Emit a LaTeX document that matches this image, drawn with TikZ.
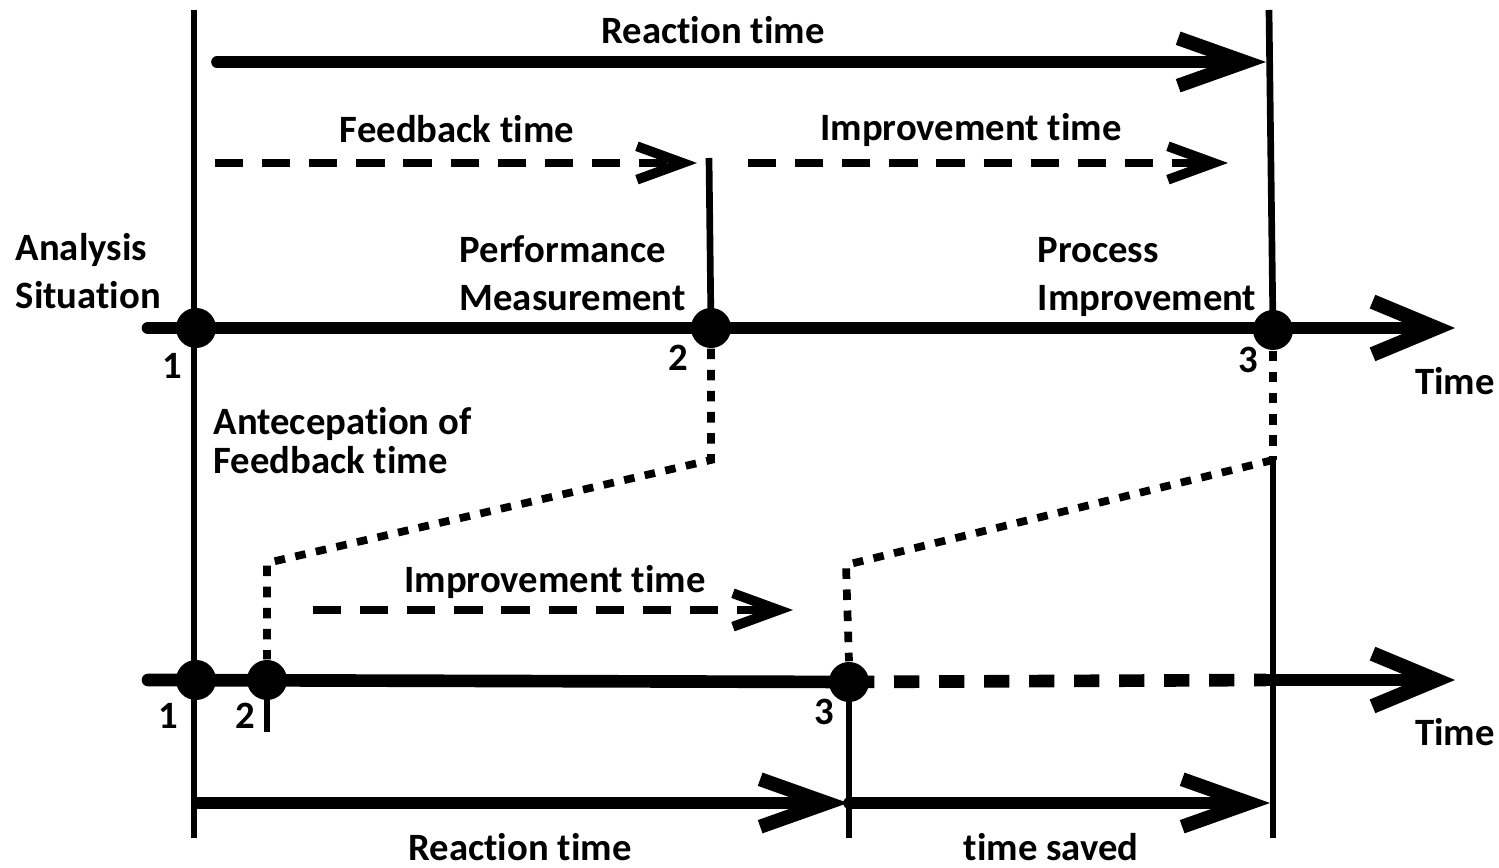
\documentclass[tikz,border=0pt]{standalone}
\usepackage{fontspec}
\setmainfont{Carlito}[Ligatures=NoCommon]
\usetikzlibrary{arrows.meta,backgrounds}
\begin{document}
\begin{tikzpicture}[x=0.01cm,y=-0.01cm,
  lbl/.style={font=\fontsize{11pt}{13pt}\selectfont\bfseries, inner sep=0pt, anchor=base},
  lblw/.style={lbl, anchor=base west},
  dot/.style={circle, fill=black, inner sep=0pt, minimum size=0.4cm},
  vline/.style={line width=1.9pt},
  dotline/.style={line width=2.2pt, dash pattern=on 3pt off 3pt},
  bigtip/.style={-{Straight Barb[length=18pt,width=15pt,line width=4.2pt]}},
  axisline/.style={line width=3.6pt, line cap=round},
  harrow/.style={line width=3.3pt, line cap=round, -{Straight Barb[length=19pt,width=13.5pt,line width=4pt]}},
  darrow/.style={line width=2.4pt, dash pattern=on 8pt off 5.4pt, -{Straight Barb[length=13pt,width=9.5pt,line width=2.8pt]}},
  daxis/.style={line width=3.6pt, dash pattern=on 7.2pt off 5.6pt}
]
\path[use as bounding box] (0,0) rectangle (1499,868);

% dots
\node[dot] (t1) at (196,328) {};
\node[dot] (t2) at (711,328) {};
\node[dot] (t3) at (1273,330) {};
\node[dot] (b1) at (196,680) {};
\node[dot] (b2) at (267,680) {};
\node[dot] (b3) at (849,682) {};

% helper coordinates
\coordinate (Ltop) at (194,10);
\coordinate (Lbot) at (194,838);
\coordinate (Rtop) at (1269,10);
\coordinate (Rmid) at (1273,460);
\coordinate (Rbot) at (1273,838);
\coordinate (Mtop) at (709,158);
\coordinate (d2a) at (711,460);
\coordinate (d2b) at (267,563);
\coordinate (d3b) at (846,565);
\coordinate (b2end) at (267,732);
\coordinate (b3end) at (849,838);
\coordinate (taxS) at (148,328);
\coordinate (taxE) at (1455,328);
\coordinate (baxS) at (148,680);
\coordinate (baxD) at (1266,680);
\coordinate (baxE) at (1455,680);
\coordinate (rtS) at (217,62);
\coordinate (rtE) at (1266,62);
\coordinate (fbS) at (215,163);
\coordinate (fbE) at (697,163);
\coordinate (imS) at (748,163);
\coordinate (imE) at (1228,163);
\coordinate (ibS) at (313,610);
\coordinate (ibE) at (793,610);
\coordinate (brS) at (197,803);
\coordinate (brE) at (848,803);
\coordinate (tsS) at (849,803);
\coordinate (tsE) at (1270,803);

\begin{scope}[on background layer]
% verticals
\draw[vline] (Ltop) -- (Lbot);
\draw[vline] (Mtop) -- (t2.center);
\draw[vline] (Rtop) -- (t3.center);
\draw[dotline] (t3.south) -- (Rmid);
\draw[vline] (Rmid) -- (Rbot);
\draw[vline] (b2.center) -- (b2end);
\draw[vline] (b3.center) -- (b3end);
% dotted anticipation paths
\draw[dotline] (t2.south) -- (d2a) -- (d2b) -- (b2.north);
\draw[dotline] (Rmid) -- (d3b) -- (b3.north);
% top arrows
\draw[harrow] (rtS) -- (rtE);
\draw[darrow] (fbS) -- (fbE);
\draw[darrow] (imS) -- (imE);
\draw[darrow] (ibS) -- (ibE);
% axes
\draw[axisline, bigtip] (taxS) -- (taxE);
\draw[axisline] (baxS) -- (b3.center);
\draw[daxis] (b3.center) -- (baxD);
\draw[axisline, bigtip] (baxD) -- (baxE);
% bottom arrows
\draw[harrow] (brS) -- (brE);
\draw[harrow] (tsS) -- (tsE);
\end{scope}

% labels
\node[lbl] (lrt) at (713,44) {Reaction time};
\node[lbl] (lfb) at (457,143) {Feedback time};
\node[lbl] (lim) at (971,141) {Improvement time};
\node[lblw] (la1) at (15,261) {Analysis};
\node[lblw] (la2) at (15,309) {Situation};
\node[lblw] (lp1) at (459,263) {Performance};
\node[lblw] (lp2) at (459,311) {Measurement};
\node[lblw] (lq1) at (1037,263) {Process};
\node[lblw] (lq2) at (1037,311) {Improvement};
\node[lbl] (n1t) at (172,379) {1};
\node[lbl] (n2t) at (678,371) {2};
\node[lbl] (n3t) at (1248,373) {3};
\node[lbl] (tt) at (1455,395) {Time};
\node[lblw] (lan1) at (213,435) {Antecepation of};
\node[lblw] (lan2) at (213,474) {Feedback time};
\node[lbl] (lib) at (555,593) {Improvement time};
\node[lbl] (n1b) at (168,729) {1};
\node[lbl] (n2b) at (245,729) {2};
\node[lbl] (n3b) at (824,725) {3};
\node[lbl] (tb) at (1455,746) {Time};
\node[lbl] (lbr) at (520,861) {Reaction time};
\node[lbl] (lts) at (1051,861) {time saved};
\end{tikzpicture}
\end{document}
